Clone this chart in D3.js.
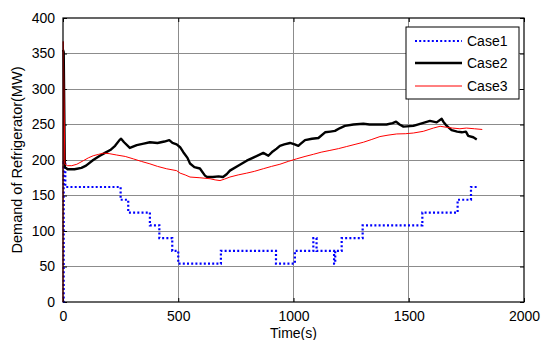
<!DOCTYPE html>
<html><head><meta charset="utf-8">
<script src="https://cdn.jsdelivr.net/npm/d3@7/dist/d3.min.js"></script>
<style>html,body{margin:0;padding:0;background:#fff;}svg{display:block;}</style>
</head><body>
<script>
// ---- data ----
const xTicks = [0, 500, 1000, 1500, 2000];
const yTicks = [0, 50, 100, 150, 200, 250, 300, 350, 400];
const seriesNames = ["Case1", "Case2", "Case3"];

const case1T = [0, 3, 10, 250, 283, 377, 418, 474, 500, 685, 924, 1006, 1086, 1100, 1176, 1181, 1209, 1300, 1559, 1712, 1770, 1800];
const case1V = [0, 197, 162, 144, 126, 108, 90, 72, 54, 72, 54, 72, 90, 72, 54, 72, 90, 108, 126, 144, 162, 162];

const case2T = [0, 3, 8, 20, 50, 80, 100, 131, 160, 182, 205, 226, 245, 252, 265, 290, 320, 350, 377, 410, 440, 461, 475, 493, 508, 522, 540, 551, 570, 594, 616, 625, 650, 675, 694, 710, 724, 760, 797, 830, 869, 891, 910, 927, 941, 960, 985, 1005, 1021, 1028, 1050, 1080, 1108, 1137, 1160, 1180, 1202, 1223, 1260, 1303, 1330, 1361, 1404, 1430, 1445, 1460, 1477, 1520, 1549, 1592, 1621, 1643, 1650, 1665, 1686, 1710, 1730, 1748, 1758, 1780, 1795];
const case2V = [355, 352, 190, 187, 187, 189, 192, 200, 206, 210, 214, 220, 228, 230, 225, 217, 221, 223, 225, 224, 226, 228, 224, 222, 218, 211, 203, 195, 190, 188, 178, 176, 176, 177, 176, 180, 185, 192, 199, 204, 210, 206, 212, 216, 220, 222, 224, 222, 220, 222, 228, 230, 231, 239, 240, 241, 245, 248, 250, 251, 250, 250, 250, 252, 254, 250, 247, 248, 251, 255, 253, 258, 254, 248, 242, 240, 239, 240, 234, 232, 229];

const case3T = [0, 1, 8, 20, 38, 60, 88, 110, 131, 155, 175, 200, 233, 270, 305, 340, 377, 410, 450, 493, 508, 530, 551, 594, 638, 660, 681, 700, 724, 760, 797, 830, 869, 905, 941, 977, 1013, 1050, 1086, 1120, 1158, 1195, 1231, 1267, 1303, 1340, 1375, 1410, 1448, 1485, 1520, 1563, 1607, 1636, 1665, 1690, 1722, 1750, 1785, 1819];
const case3V = [0, 367, 194, 192, 192, 194, 199, 203, 206, 208, 209.6, 209, 207, 205, 201.6, 198, 194.6, 191, 187.6, 185, 181.5, 179, 176, 175, 173.6, 172, 171, 173, 176, 179, 181.5, 184, 187.7, 191, 194, 198, 201.6, 205, 208, 211, 213.5, 216, 219, 222, 225, 229, 233, 235, 236.7, 237, 238, 240.4, 245, 247.5, 246, 245, 244, 245, 244, 243];

// ---- layout ----
const W = 542, H = 340;
const m = {left: 63, top: 18, right: 18, bottom: 38};
const pw = W - m.left - m.right, ph = H - m.top - m.bottom;
const font = "'Liberation Sans', Arial, sans-serif";
const fs = "14px";

const svg = d3.select("body").append("svg").attr("width", W).attr("height", H)
  .style("font-family", font);

const x = d3.scaleLinear().domain([0, 2000]).range([m.left, m.left + pw]);
const y = d3.scaleLinear().domain([0, 400]).range([m.top + ph, m.top]);

// grid
const g = svg.append("g");
g.selectAll("line.gx").data(xTicks.slice(1, -1)).join("line")
  .attr("x1", d => x(d)).attr("x2", d => x(d)).attr("y1", y(0)).attr("y2", y(400))
  .attr("stroke", "#8c8c8c").attr("stroke-width", 1).attr("shape-rendering", "crispEdges");
g.selectAll("line.gy").data(yTicks.slice(1, -1)).join("line")
  .attr("y1", d => y(d)).attr("y2", d => y(d)).attr("x1", x(0)).attr("x2", x(2000))
  .attr("stroke", "#8c8c8c").attr("stroke-width", 1).attr("shape-rendering", "crispEdges");

// axes (MATLAB style inward ticks on all sides)
const tickLen = 4;
const fmt = d3.format("d");
const axB = svg.append("g").attr("transform", `translate(0,${y(0)})`)
  .call(d3.axisBottom(x).tickValues(xTicks).tickFormat(fmt).tickSizeInner(-tickLen).tickSizeOuter(0).tickPadding(9));
const axT = svg.append("g").attr("transform", `translate(0,${y(400)})`)
  .call(d3.axisTop(x).tickValues(xTicks).tickSizeInner(-tickLen).tickSizeOuter(0).tickFormat(""));
const axL = svg.append("g").attr("transform", `translate(${x(0)},0)`)
  .call(d3.axisLeft(y).tickValues(yTicks).tickFormat(fmt).tickSizeInner(-tickLen).tickSizeOuter(0).tickPadding(8));
const axR = svg.append("g").attr("transform", `translate(${x(2000)},0)`)
  .call(d3.axisRight(y).tickValues(yTicks).tickSizeInner(-tickLen).tickSizeOuter(0).tickFormat(""));
[axB, axT, axL, axR].forEach(a => {
  a.select(".domain").remove();
  a.selectAll("line").attr("stroke", "#000");
  a.selectAll("text").attr("fill", "#000").style("font-size", fs).style("font-family", font);
});

// plot lines
const clipId = "clip";
svg.append("clipPath").attr("id", clipId).append("rect")
  .attr("x", m.left - 2).attr("y", m.top).attr("width", pw + 4).attr("height", ph + 1);
const lines = svg.append("g").attr("clip-path", `url(#${clipId})`);

const mk = (T, V) => T.map((t, i) => [t, V[i]]);
const lineStep = d3.line().x(d => x(d[0])).y(d => y(d[1])).curve(d3.curveStepAfter);
const lineLin = d3.line().x(d => x(d[0])).y(d => y(d[1]));

lines.append("path").datum(mk(case1T, case1V)).attr("d", lineStep)
  .attr("fill", "none").attr("stroke", "#0000ff").attr("stroke-width", 2.2)
  .attr("stroke-dasharray", "2,2.2");
lines.append("path").datum(mk(case2T, case2V)).attr("d", lineLin)
  .attr("fill", "none").attr("stroke", "#000").attr("stroke-width", 2.4).attr("stroke-linejoin", "round");
lines.append("path").datum(mk(case3T, case3V)).attr("d", lineLin)
  .attr("fill", "none").attr("stroke", "#ff0000").attr("stroke-width", 1);

// box
svg.append("rect").attr("x", x(0)).attr("y", y(400)).attr("width", x(2000) - x(0)).attr("height", y(0) - y(400))
  .attr("fill", "none").attr("stroke", "#000").attr("stroke-width", 1.2);

// axis labels
svg.append("text").attr("x", (x(0) + x(2000)) / 2).attr("y", 338)
  .attr("text-anchor", "middle").style("font-size", fs).text("Time(s)");
svg.append("text").attr("transform", `translate(22,${(y(0) + y(400)) / 2}) rotate(-90)`)
  .attr("text-anchor", "middle").style("font-size", "14.5px").text("Demand of Refrigerator(MW)");

// legend
const lg = svg.append("g");
const lx = 406, ly = 27, lw = 113, lh = 72;
lg.append("rect").attr("x", lx).attr("y", ly).attr("width", lw).attr("height", lh)
  .attr("fill", "#fff").attr("stroke", "#000").attr("stroke-width", 1);
const styles = [
  {stroke: "#0000ff", w: 2.2, dash: "2,2.2"},
  {stroke: "#000", w: 2.4, dash: null},
  {stroke: "#ff0000", w: 1, dash: null}
];
const rowY = [41, 63, 86];
seriesNames.forEach((name, i) => {
  const ln = lg.append("line").attr("x1", 415).attr("x2", 462).attr("y1", rowY[i]).attr("y2", rowY[i])
    .attr("stroke", styles[i].stroke).attr("stroke-width", styles[i].w);
  if (styles[i].dash) ln.attr("stroke-dasharray", styles[i].dash);
  lg.append("text").attr("x", 467).attr("y", rowY[i] + 5).style("font-size", fs).text(name);
});
</script>
</body></html>
